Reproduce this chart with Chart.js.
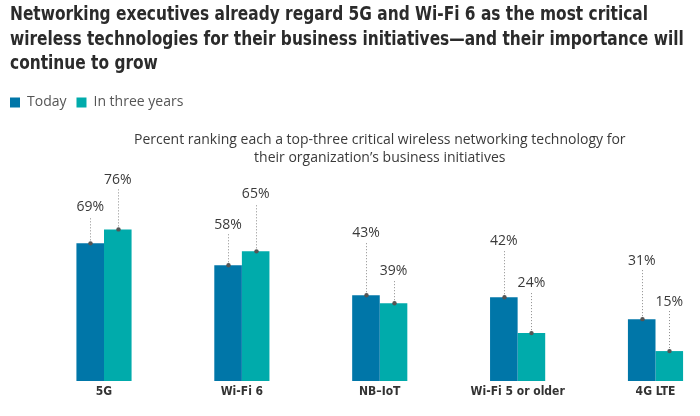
<!DOCTYPE html>
<html><head><meta charset="utf-8">
<script src="https://cdn.jsdelivr.net/npm/chart.js@4.4.1/dist/chart.umd.min.js"></script>
<style>
html,body{margin:0;padding:0;background:#fff;}
#wrap{width:700px;height:416px;position:relative;overflow:hidden;}
#c{position:absolute;left:0;top:0;}
#heading{position:absolute;left:10px;top:1px;margin:0;font-family:"DejaVu Sans Condensed","DejaVu Sans",sans-serif;font-stretch:condensed;font-weight:bold;font-size:20px;line-height:24.5px;color:#2b2b2b;white-space:nowrap;transform-origin:0 0;}
#heading span{display:inline-block;}
</style>
</head><body><div id="wrap"><canvas id="c" width="700" height="416"></canvas><h1 id="heading"></h1></div>
<script>
const categories = ['5G', 'Wi-Fi 6', 'NB\u2013IoT', 'Wi-Fi 5 or older', '4G LTE'];
const todayValues = [69, 58, 43, 42, 31];
const threeYearValues = [76, 65, 39, 24, 15];
const seriesNames = ['Today', 'In three years'];
const headingLines = [
  'Networking executives already regard 5G and Wi-Fi 6 as the most critical',
  'wireless technologies for their business initiatives\u2014and their importance will',
  'continue to grow'
];
const subtitleLines = [
  'Percent ranking each a top-three critical wireless networking technology for',
  'their organization\u2019s business initiatives'
];
// how far each value label sits above its bar (layout of the annotation, px)
const todayLabelLift = [36, 40, 62, 56, 58];
const threeYearLabelLift = [49, 57, 32, 50, 49];

const BLUE = '#0076A8', TEAL = '#00ABAB';
const condensed = '"DejaVu Sans Condensed", "Liberation Sans Narrow", sans-serif';
const body = '"Open Sans", "Noto Sans", sans-serif';

// heading: real text, condensed horizontally so the first line spans the same width as the reference
const h = document.getElementById('heading');
const spans = headingLines.map((t, i) => {
  if (i) h.appendChild(document.createElement('br'));
  const s = document.createElement('span');
  s.textContent = t;
  h.appendChild(s);
  return s;
});
const w0 = spans[0].getBoundingClientRect().width;
h.style.transform = 'scaleX(' + (638 / w0) + ')';

const valueLabels = {
  id: 'valueLabels',
  afterDatasetsDraw(chart, args, opts) {
    const ctx = chart.ctx;
    chart.data.datasets.forEach((ds, di) => {
      const meta = chart.getDatasetMeta(di);
      meta.data.forEach((bar, i) => {
        const x = bar.x, top = bar.y;
        const cy = top - opts.lifts[di][i];
        const lx = Math.round(x) + 0.5;
        ctx.save();
        ctx.strokeStyle = '#8c8c8c';
        ctx.lineWidth = 1;
        ctx.setLineDash([1, 2]);
        ctx.beginPath();
        ctx.moveTo(lx, top);
        ctx.lineTo(lx, cy + 9);
        ctx.stroke();
        ctx.setLineDash([]);
        ctx.fillStyle = '#555';
        ctx.beginPath();
        ctx.arc(lx, top, 2.2, 0, Math.PI * 2);
        ctx.fill();
        ctx.font = '14px ' + body;
        ctx.fillStyle = '#3a3a3a';
        ctx.textAlign = 'center';
        ctx.textBaseline = 'middle';
        ctx.fillText(ds.data[i] + '%', x, cy);
        ctx.restore();
      });
    });
  }
};

new Chart(document.getElementById('c'), {
  type: 'bar',
  data: {
    labels: categories,
    datasets: [
      { label: seriesNames[0], data: todayValues, backgroundColor: BLUE, borderWidth: 0 },
      { label: seriesNames[1], data: threeYearValues, backgroundColor: TEAL, borderWidth: 0 }
    ]
  },
  options: {
    responsive: false,
    animation: false,
    devicePixelRatio: 1,
    datasets: { bar: { categoryPercentage: 0.4, barPercentage: 1.0, clip: false } },
    layout: { padding: { top: 85.5, left: 0, right: 0, bottom: 0 } },
    plugins: {
      title: { display: false },
      legend: {
        display: true, align: 'start', position: 'top',
        labels: { boxWidth: 10, boxHeight: 10, color: '#555', padding: 10,
          font: { family: body, size: 14 } }
      },
      tooltip: { enabled: false },
      valueLabels: { lifts: [todayLabelLift, threeYearLabelLift] }
    },
    scales: {
      x: {
        offset: false,
        grid: { display: false, drawTicks: false },
        border: { display: false },
        ticks: { color: '#333', padding: 4, font: { family: condensed, size: 12, weight: 'bold' } },
        afterFit(s) { s.height = 35; }
      },
      x2: {
        axis: 'x', type: 'category', position: 'top', offset: false,
        grid: { display: false, drawTicks: false },
        border: { display: false },
        ticks: { display: false },
        title: { display: true, text: subtitleLines, color: '#3a3a3a',
          font: { family: body, size: 14, lineHeight: 1.2857 }, padding: { top: 12, bottom: 0 } },
        afterFit(s) { s.height = 62; }
      },
      y: {
        min: 0, max: 100,
        grid: { display: false, drawTicks: false },
        border: { display: false },
        ticks: { display: false },
        afterFit(s) { s.width = 104; }
      },
      yR: {
        position: 'right', min: 0, max: 100,
        grid: { display: false, drawTicks: false },
        border: { display: false },
        ticks: { display: false },
        afterFit(s) { s.width = 44.5; }
      }
    }
  },
  plugins: [valueLabels]
});
</script>
</body></html>
